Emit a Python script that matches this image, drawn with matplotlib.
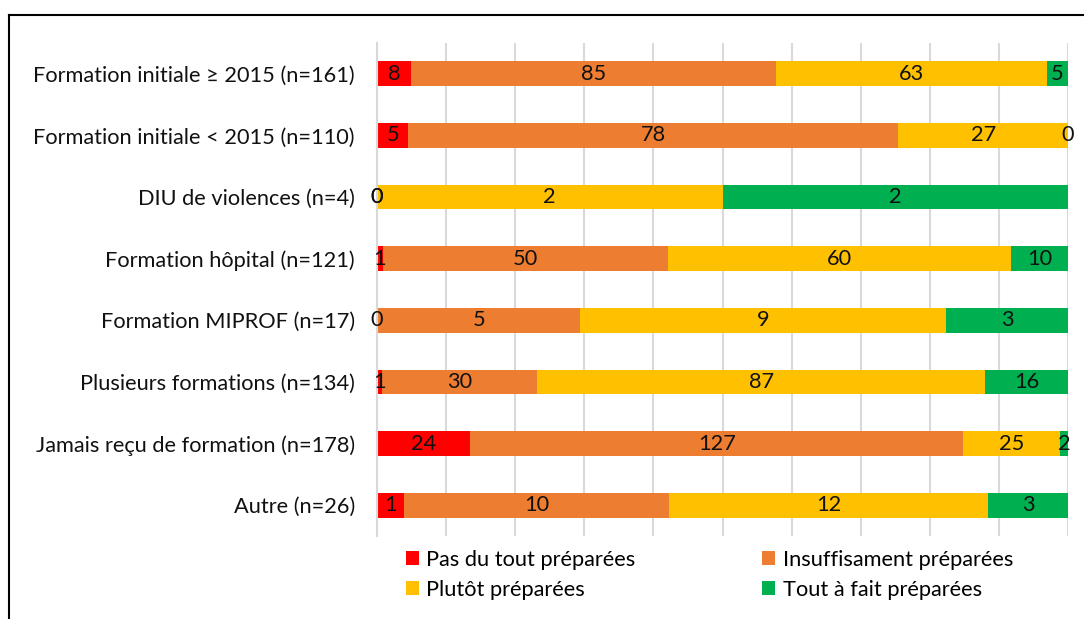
"""Stacked 100% horizontal bars: preparation level by type of training."""

import matplotlib

matplotlib.use("Agg")
import matplotlib.pyplot as plt
import numpy as np
from matplotlib.lines import Line2D

# ====== Data ======
categories = [
    "Formation initiale \u2265 2015 (n=161)",
    "Formation initiale < 2015 (n=110)",
    "DIU de violences (n=4)",
    "Formation h\u00f4pital (n=121)",
    "Formation MIPROF (n=17)",
    "Plusieurs formations (n=134)",
    "Jamais re\u00e7u de formation (n=178)",
    "Autre (n=26)",
]
series_names = [
    "Pas du tout pr\u00e9par\u00e9es",
    "Insuffisament pr\u00e9par\u00e9es",
    "Plut\u00f4t pr\u00e9par\u00e9es",
    "Tout \u00e0 fait pr\u00e9par\u00e9es",
]
pas_du_tout = [8, 5, 0, 1, 0, 1, 24, 1]
insuffisant = [85, 78, 0, 50, 5, 30, 127, 10]
plutot = [63, 27, 2, 60, 9, 87, 25, 12]
tout_a_fait = [5, 0, 2, 10, 3, 16, 2, 3]
colors = ["#FF0000", "#ED7D31", "#FFC000", "#00B050"]
# ==================

plt.rcParams["font.family"] = ["Lato", "DejaVu Sans"]
FS = 15.7

counts = np.array([pas_du_tout, insuffisant, plutot, tout_a_fait], dtype=float)
totals = counts.sum(axis=0)
shares = counts / totals * 100

fig = plt.figure(figsize=(10.84, 6.19), dpi=100)
ax = fig.add_axes([377 / 1084, 1 - 536 / 619, (1068 - 377) / 1084, (536 - 43) / 619])

y = np.arange(len(categories))
left = np.zeros(len(categories))
for k in range(4):
    ax.barh(y, shares[k], left=left, height=0.4, color=colors[k],
            label=series_names[k], zorder=2)
    for i in range(len(categories)):
        ax.text(left[i] + shares[k][i] / 2, y[i], f"{int(counts[k][i])}",
                ha="center", va="center", fontsize=FS, color="#111111", zorder=3)
    left += shares[k]

ax.set_xlim(0, 100)
ax.set_ylim(len(categories) - 0.5, -0.5)
ax.set_yticks(y)
ax.set_yticklabels(categories, fontsize=FS, color="#111111")
ax.set_xticks(np.arange(0, 101, 10))
ax.tick_params(axis="x", length=0, labelbottom=False)
ax.tick_params(axis="y", length=0, pad=16)
ax.grid(axis="x", color="#D9D9D9", linewidth=1.5, zorder=0)
for s in ["top", "right", "bottom"]:
    ax.spines[s].set_visible(False)
ax.spines["left"].set_color("#D9D9D9")
ax.spines["left"].set_linewidth(1.5)

# legend reads row by row: reorder for matplotlib's column-major filling
handles, labels = ax.get_legend_handles_labels()
order = [0, 2, 1, 3]
fig.legend([handles[j] for j in order], [labels[j] for j in order], ncol=2,
           loc="center left", bbox_to_anchor=(386 / 1084, 1 - 575 / 619), frameon=False,
           fontsize=FS, handlelength=0.6, handleheight=0.6, handletextpad=0.35,
           columnspacing=5.8, labelspacing=0.45)

# outer frame (top and left edges visible in the crop)
fig.add_artist(Line2D([9 / 1084, 9 / 1084], [0, 1 - 15 / 619], transform=fig.transFigure,
                      color="black", linewidth=1.5))
fig.add_artist(Line2D([9 / 1084, 1], [1 - 15 / 619, 1 - 15 / 619], transform=fig.transFigure,
                      color="black", linewidth=1.5))

fig.savefig("out.png", dpi=100)
